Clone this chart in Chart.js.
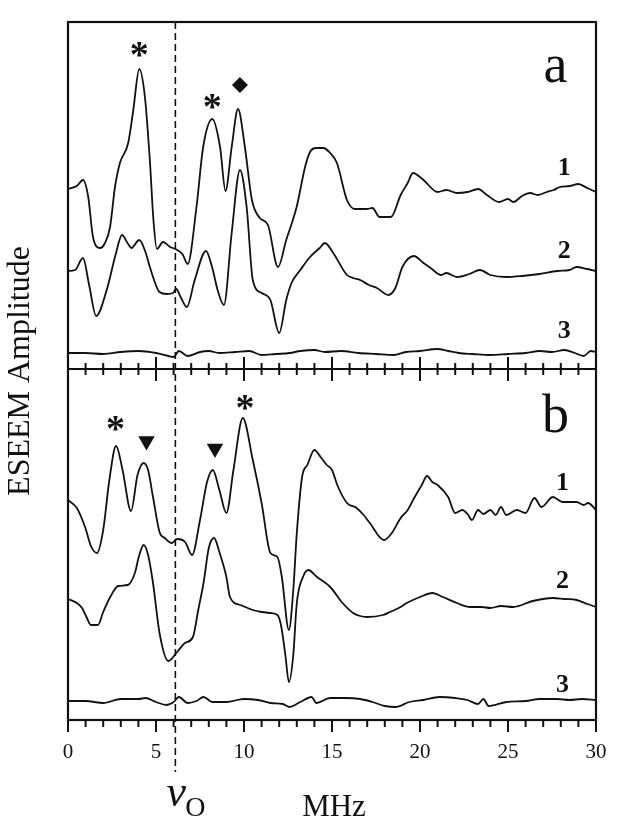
<!DOCTYPE html>
<html>
<head>
<meta charset="utf-8">
<script src="https://cdn.jsdelivr.net/npm/chart.js@4"></script>
<style>
  html, body { margin: 0; padding: 0; background: #fff; }
  #warm { position: absolute; left: -999px; top: 0; font-family: "Liberation Serif"; }
</style>
</head>
<body>
<canvas id="myCanvas" width="626" height="826"></canvas>
<div id="warm">a <b>1</b> <i>ν</i></div>
<script>
// ESEEM spectra, x = MHz, y = amplitude (arb. units, traces offset)
// panel a
const a1 = [[0,18.0],[0.5,18.3],[0.85,18.9],[1.15,17.2],[1.42,13.2],[1.82,12.1],[2.1,12.6],[2.39,14.2],[2.67,18.2],[2.95,20.6],
  [3.42,22.6],[3.71,25.9],[4.05,30.0],[4.37,27.2],[4.66,20.6],[4.85,15.0],[5.05,12.0],[5.4,12.7],[5.8,12.2],[6.1,12.0],
  [6.5,11.5],[6.8,10.5],[7.3,16.2],[7.68,22.2],[8.2,25.0],[8.64,22.2],[8.95,17.8],[9.3,22.2],[9.66,26.0],[10.05,22.2],
  [10.45,16.9],[10.9,15.1],[11.36,14.4],[11.93,10.2],[12.4,12.9],[12.99,16.2],[13.47,20.2],[13.75,21.7],[14.1,22.1],[14.5,22.1],
  [14.9,21.6],[15.28,20.6],[15.85,16.9],[16.3,16.0],[16.97,16.0],[17.3,16.1],[17.7,15.2],[18.35,15.2],[18.9,17.4],[19.3,18.6],
  [19.6,19.6],[20.2,18.9],[21.0,17.7],[21.5,17.9],[22.1,17.6],[22.7,17.7],[23.3,18.0],[23.8,17.4],[24.5,16.7],[25.0,17.0],
  [25.3,16.7],[25.8,17.3],[26.25,17.6],[26.7,17.4],[27.2,17.7],[27.6,17.9],[27.95,18.2],[28.5,18.3],[29.0,18.5],[29.5,18.1],[30,17.7]];
const a2 = [[0,9.8],[0.4,9.9],[0.85,11.1],[1.2,8.4],[1.6,5.3],[2.2,7.9],[2.7,11.4],[3.07,13.4],[3.35,12.7],[3.6,12.1],
  [4.05,12.9],[4.4,11.7],[4.65,10.2],[5.2,7.7],[5.6,7.5],[5.97,7.6],[6.15,8.0],[6.4,7.2],[6.75,6.2],[7.2,8.9],
  [7.84,11.8],[8.2,10.1],[8.5,7.9],[8.86,6.4],[9.3,13.6],[9.77,19.9],[10.15,16.2],[10.5,8.9],[11.0,7.6],[11.5,6.9],
  [12.0,3.6],[12.4,6.9],[12.7,8.6],[13.2,9.9],[13.75,11.2],[14.3,12.1],[14.6,12.6],[15.07,11.6],[15.85,9.4],[16.2,9.1],
  [16.6,8.9],[17.1,8.4],[17.55,8.1],[18.2,7.4],[18.6,8.1],[19.0,10.2],[19.65,11.3],[20.2,10.6],[20.6,10.1],[21.2,9.4],
  [21.5,9.6],[22.1,9.2],[22.8,9.5],[23.4,9.9],[24.0,9.4],[24.9,9.2],[25.8,9.3],[26.8,9.5],[27.8,9.8],[28.5,9.9],
  [28.9,10.2],[29.5,10.0],[30,9.8]];
const a3 = [[0,1.6],[1,1.6],[2,1.5],[3,1.7],[4,1.8],[5,1.6],[5.7,1.3],[6.0,1.2],[6.3,1.8],[6.8,1.3],[7.5,1.7],[8.0,1.8],
  [8.6,1.6],[9.5,1.7],[10.3,1.8],[11.0,1.4],[11.8,1.5],[12.6,1.6],[13.2,1.8],[14.0,1.9],[14.6,1.7],[15.5,1.8],[16.5,1.6],
  [17.5,1.5],[18.5,1.4],[19.2,1.7],[20.0,1.8],[21.0,2.0],[21.6,1.8],[22.2,1.6],[23.0,1.5],[24.0,1.4],[25.0,1.5],[26.0,1.6],
  [26.8,1.8],[27.5,1.7],[28.2,1.9],[28.8,1.6],[29.3,1.3],[29.7,1.8],[30,1.7]];
// panel b
const b1 = [[0,22.0],[0.5,21.2],[0.97,19.3],[1.3,17.4],[1.65,16.7],[2.0,19.0],[2.35,24.0],[2.73,27.4],[3.1,25.0],[3.58,20.9],
  [3.95,24.5],[4.3,25.7],[4.55,25.0],[4.83,22.3],[5.2,18.8],[5.5,18.2],[5.9,17.7],[6.2,18.1],[6.65,17.8],[7.05,16.5],
  [7.5,20.0],[7.9,23.8],[8.23,25.0],[8.6,23.0],[9.0,20.7],[9.4,25.0],[9.93,30.2],[10.5,26.0],[11.0,21.7],[11.5,16.7],
  [11.9,16.3],[12.15,14.3],[12.55,9.0],[12.8,13.0],[13.0,18.7],[13.3,24.3],[13.6,25.5],[14.0,27.0],[14.35,26.3],[14.7,25.5],
  [15.0,25.0],[15.3,23.5],[15.85,21.7],[16.4,21.2],[16.8,20.5],[17.15,19.7],[17.95,18.0],[18.4,18.7],[18.9,20.2],[19.3,21.0],
  [19.7,22.3],[20.1,23.5],[20.4,24.4],[20.7,23.8],[21.0,23.5],[21.6,22.3],[22.0,20.7],[22.4,21.0],[22.7,20.6],[22.95,20.0],
  [23.3,21.0],[23.6,20.6],[24.0,21.0],[24.3,20.5],[24.6,21.3],[24.9,20.5],[25.5,21.0],[26.0,20.7],[26.5,22.2],[26.9,21.3],
  [27.55,22.3],[28.1,21.8],[28.9,21.8],[29.3,21.5],[29.55,21.7],[30,21.0]];
const b2 = [[0,12.1],[0.5,11.7],[0.8,11.2],[1.05,10.3],[1.3,9.5],[1.7,9.5],[2.0,10.8],[2.4,12.3],[2.85,13.4],[3.4,13.5],[3.8,14.7],
  [4.05,16.5],[4.3,17.5],[4.55,16.5],[4.83,13.7],[5.2,8.7],[5.7,5.9],[6.2,6.8],[6.65,7.7],[7.1,8.3],[7.4,11.0],
  [7.7,13.7],[8.0,17.2],[8.3,18.2],[8.6,16.8],[9.0,14.3],[9.2,12.3],[9.8,11.5],[10.5,11.0],[11.0,10.8],[11.5,10.7],
  [11.9,10.5],[12.1,9.5],[12.35,6.5],[12.55,3.8],[12.8,6.5],[13.0,11.7],[13.35,14.3],[13.65,15.0],[14.15,14.3],[14.9,13.3],
  [15.6,11.7],[16.2,10.7],[16.6,10.4],[17.0,10.3],[17.9,10.5],[18.3,10.8],[18.9,11.3],[19.25,11.7],[20.0,12.3],[20.7,12.7],
  [21.3,12.3],[22.1,11.7],[22.85,11.3],[23.5,11.3],[24.0,11.2],[24.6,11.4],[25.3,11.3],[26.4,11.9],[27.55,12.2],[28.2,12.1],
  [28.9,12.0],[29.5,11.6],[30,11.3]];
const b3 = [[0,1.9],[1,1.9],[2,1.7],[3,2.1],[4,2.1],[4.4,2.2],[5.0,1.8],[5.6,1.5],[6.0,1.8],[6.3,2.3],[6.8,1.7],[7.3,1.9],
  [7.7,2.3],[8.2,1.8],[9.0,1.8],[10.0,2.1],[10.8,2.0],[11.5,1.7],[12.2,1.6],[12.6,1.3],[13.2,1.8],[13.85,2.3],[14.1,1.7],
  [14.9,2.2],[15.8,2.2],[16.6,2.1],[17.3,1.8],[18.0,1.4],[18.6,1.3],[19.4,1.8],[20.2,2.0],[21.1,2.3],[22.0,2.2],[22.7,2.0],
  [23.3,1.6],[23.6,2.1],[23.9,1.4],[24.9,1.8],[26.0,1.9],[26.8,2.1],[27.8,2.1],[28.5,2.0],[29.2,2.1],[30,2.0]];

// peak markers
const starsA = [[4.05, 31.9], [8.2, 26.7]];
const diamondA = [[9.77, 28.4]];
const starsB = [[2.7, 29.6], [10.05, 31.7]];
const trianglesB = [[4.46, 27.9], [8.35, 27.15]];

// labels: [text, MHz, amplitude]
const labelsA = [['1', 28.2, 19.4], ['2', 28.2, 11.1], ['3', 28.2, 3.1]];
const labelsB = [['1', 28.1, 23.0], ['2', 28.1, 13.2], ['3', 28.1, 2.8]];
const panelA = ['a', 27.7, 28.7];
const panelB = ['b', 27.7, 28.8];

const NU_O = 6.1;
const xTicks = [0, 5, 10, 15, 20, 25, 30];

const SERIF = '"Liberation Serif", Tinos, "Times New Roman", Times, serif';
const INK = '#111';

function trace(data, axis) {
  return {
    data: data, yAxisID: axis,
    borderColor: INK, borderWidth: 1.8,
    pointRadius: 0, cubicInterpolationMode: 'monotone',
    borderJoinStyle: 'round', fill: false
  };
}

// frame, divider, ticks and the dashed nu_O line
const framePlugin = {
  id: 'frame',
  afterDatasetsDraw(chart) {
    const {ctx, chartArea: a, scales} = chart;
    const x = scales.x;
    const mid = scales.yA.bottom;
    ctx.save();
    ctx.strokeStyle = INK;
    ctx.lineWidth = 2.2;
    ctx.strokeRect(a.left, a.top, a.right - a.left, a.bottom - a.top);
    ctx.beginPath();
    ctx.moveTo(a.left, mid);
    ctx.lineTo(a.right, mid);
    ctx.stroke();

    ctx.lineWidth = 2;
    x.ticks.forEach(t => {
      const px = x.getPixelForValue(t.value);
      const major = xTicks.includes(t.value);
      ctx.beginPath();
      ctx.moveTo(px, a.bottom);
      ctx.lineTo(px, a.bottom + (major ? 12 : 7));
      ctx.moveTo(px, mid - (major ? 12 : 6));
      ctx.lineTo(px, mid + (major ? 12 : 6));
      ctx.stroke();
    });

    const nx = x.getPixelForValue(NU_O);
    ctx.lineWidth = 1.6;
    ctx.setLineDash([7, 4]);
    ctx.beginPath();
    ctx.moveTo(nx, a.top);
    ctx.lineTo(nx, a.bottom + 52);
    ctx.stroke();
    ctx.restore();
  }
};

// text: stars, panel letters, trace numbers, axis titles
const textPlugin = {
  id: 'notes',
  afterDraw(chart) {
    const {ctx, chartArea: a, scales} = chart;
    const x = scales.x, yA = scales.yA, yB = scales.yB;
    ctx.save();
    ctx.fillStyle = INK;
    ctx.textAlign = 'center';
    ctx.textBaseline = 'alphabetic';

    ctx.font = 'bold 38px ' + SERIF;
    starsA.forEach(s => ctx.fillText('*', x.getPixelForValue(s[0]), yA.getPixelForValue(s[1]) + 17));
    starsB.forEach(s => ctx.fillText('*', x.getPixelForValue(s[0]), yB.getPixelForValue(s[1]) + 17));

    ctx.font = '54px ' + SERIF;
    ctx.fillText(panelA[0], x.getPixelForValue(panelA[1]), yA.getPixelForValue(panelA[2]));
    ctx.fillText(panelB[0], x.getPixelForValue(panelB[1]), yB.getPixelForValue(panelB[2]));

    ctx.font = 'bold 26px ' + SERIF;
    labelsA.forEach(l => ctx.fillText(l[0], x.getPixelForValue(l[1]), yA.getPixelForValue(l[2])));
    labelsB.forEach(l => ctx.fillText(l[0], x.getPixelForValue(l[1]), yB.getPixelForValue(l[2])));

    ctx.font = '31px ' + SERIF;
    ctx.fillText('MHz', 334, 816);

    const nx = x.getPixelForValue(NU_O);
    ctx.font = 'italic 44px ' + SERIF;
    ctx.fillText('ν', nx + 1, 806);
    ctx.textAlign = 'left';
    ctx.font = '28px ' + SERIF;
    ctx.fillText('O', nx + 10, 816);

    ctx.save();
    ctx.translate(21, (a.top + a.bottom) / 2);
    ctx.rotate(-Math.PI / 2);
    ctx.textAlign = 'center';
    ctx.textBaseline = 'middle';
    ctx.font = '32px ' + SERIF;
    ctx.fillText('ESEEM Amplitude', 0, 0);
    ctx.restore();
    ctx.restore();
  }
};

const hiddenY = (min, max, weight, stackWeight) => ({
  type: 'linear', position: 'left', stack: 'panels', stackWeight: stackWeight, weight: weight,
  min: min, max: max,
  ticks: { display: false }, grid: { display: false }, border: { display: false },
  afterFit: s => { s.width = 0; }
});

function drawChart() {
  var canvas = document.getElementById('myCanvas');
  const ctx = canvas.getContext('2d');
  return new Chart(ctx, {
    type: 'line',
    data: {
      datasets: [
        trace(a1, 'yA'), trace(a2, 'yA'), trace(a3, 'yA'),
        trace(b1, 'yB'), trace(b2, 'yB'), trace(b3, 'yB'),
        { data: diamondA, yAxisID: 'yA', showLine: false, pointStyle: 'rectRot',
          pointRadius: 8, backgroundColor: INK, borderWidth: 0 },
        { data: trianglesB, yAxisID: 'yB', showLine: false, pointStyle: 'triangle',
          pointRotation: 180, pointRadius: 9.5, backgroundColor: INK, borderWidth: 0 }
      ]
    },
    options: {
      responsive: false,
      animation: false,
      events: [],
      layout: { padding: { left: 68, right: 30, top: 22, bottom: 66 } },
      plugins: { legend: { display: false }, tooltip: { enabled: false } },
      scales: {
        x: {
          type: 'linear', position: 'bottom', min: 0, max: 30,
          grid: { display: true, drawOnChartArea: false, drawTicks: true, tickLength: 12, color: 'rgba(0,0,0,0)' },
          border: { display: false },
          ticks: {
            stepSize: 1, autoSkip: false, maxRotation: 0, padding: 8, color: INK,
            font: { family: SERIF, size: 21 },
            callback: v => xTicks.includes(v) ? v : ''
          },
          afterFit: s => { s.height = 40; }
        },
        yB: hiddenY(0, 35.1, 1, 351),
        yA: hiddenY(0, 34.7, 2, 347)
      }
    },
    plugins: [framePlugin, textPlugin]
  });
}

Promise.all([
  document.fonts.load('21px "Liberation Serif"'),
  document.fonts.load('bold 26px "Liberation Serif"'),
  document.fonts.load('italic 44px "Liberation Serif"')
]).catch(() => {}).then(drawChart);
</script>
</body>
</html>
